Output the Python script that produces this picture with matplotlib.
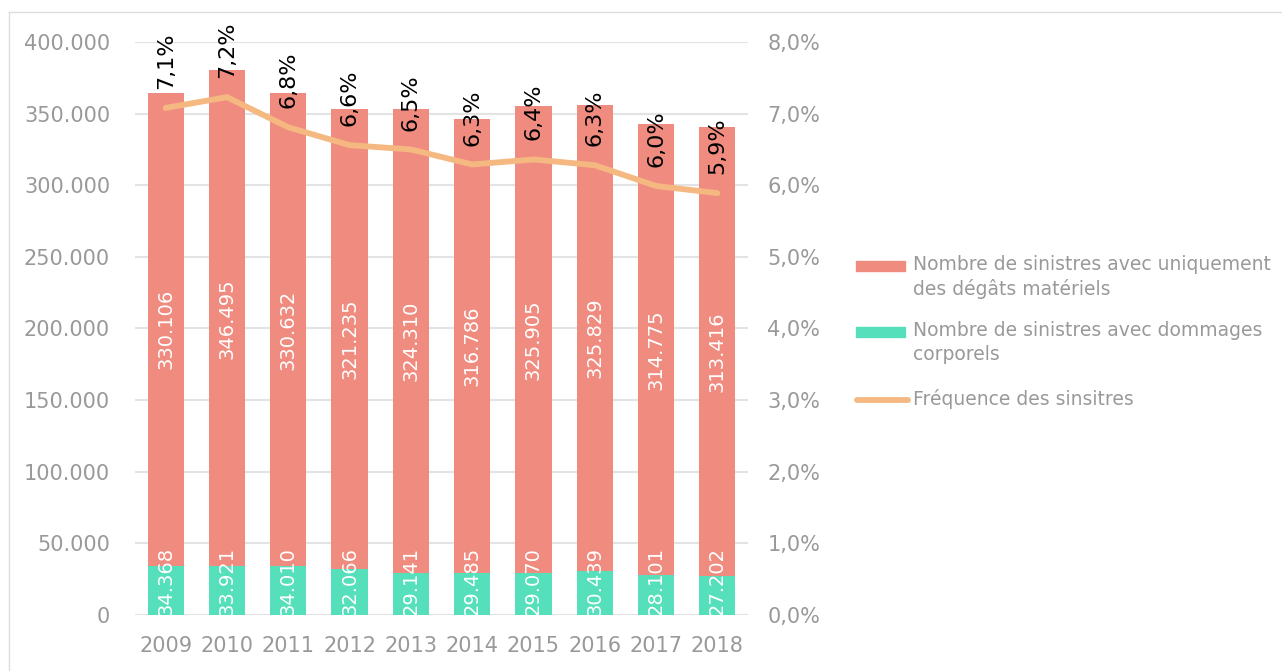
import matplotlib.pyplot as plt
from matplotlib.patches import Rectangle
from matplotlib.lines import Line2D
from matplotlib.ticker import FuncFormatter, MultipleLocator

years = ['2009', '2010', '2011', '2012', '2013', '2014', '2015', '2016', '2017', '2018']
materiels = [330106, 346495, 330632, 321235, 324310, 316786, 325905, 325829, 314775, 313416]
corporels = [34368, 33921, 34010, 32066, 29141, 29485, 29070, 30439, 28101, 27202]
frequence = [7.08, 7.23, 6.81, 6.56, 6.50, 6.29, 6.36, 6.28, 5.99, 5.89]

RED = '#F08B80'
GREEN = '#55DFBB'
ORANGE = '#F5B880'
GREY_TXT = '#999999'
GRID = '#E3E3E3'

fig = plt.figure(figsize=(12.82, 6.71), dpi=100)
ax = fig.add_axes([135 / 1282, 56 / 671, 613 / 1282, 573 / 671])
ax2 = ax.twinx()

x = list(range(len(years)))
ax.bar(x, corporels, width=0.59, color=GREEN, zorder=2)
ax.bar(x, materiels, width=0.59, bottom=corporels, color=RED, zorder=2)

# value labels inside the bars
for i in x:
    ax.text(i, corporels[i] + materiels[i] / 2, f'{materiels[i]:,}'.replace(',', '.'),
            rotation=90, ha='center', va='center', color='white', fontsize=14, zorder=3)
    ax.text(i, 0, f'{corporels[i]:,}'.replace(',', '.'),
            rotation=90, ha='center', va='bottom', color='white', fontsize=14, zorder=3)

ax.set_xlim(-0.5, len(years) - 0.5)
ax.set_ylim(0, 400000)
ax.yaxis.set_major_locator(MultipleLocator(50000))
ax.yaxis.set_major_formatter(FuncFormatter(lambda v, p: f'{v:,.0f}'.replace(',', '.')))
ax.set_xticks(x)
ax.set_xticklabels(years)
ax.grid(axis='y', color=GRID, linewidth=1.5, zorder=0)
ax.set_axisbelow(True)
ax.tick_params(axis='both', length=0, labelsize=15, labelcolor=GREY_TXT)
ax.tick_params(axis='y', pad=18)
ax.tick_params(axis='x', pad=15)

ax2.plot(x, frequence, color=ORANGE, linewidth=4.2, solid_capstyle='round', zorder=4)
for i in x:
    ax2.annotate(f'{frequence[i]:.1f}%'.replace('.', ','), (i, frequence[i]),
                 xytext=(0, 34), textcoords='offset points', rotation=90,
                 ha='center', va='center', fontsize=16, color='black',
                 annotation_clip=False)
ax2.set_ylim(0, 8)
ax2.yaxis.set_major_locator(MultipleLocator(1))
ax2.yaxis.set_major_formatter(FuncFormatter(lambda v, p: f'{v:.1f}%'.replace('.', ',')))
ax2.tick_params(axis='y', length=0, labelsize=15, labelcolor=GREY_TXT, pad=14)

for a in (ax, ax2):
    for s in a.spines.values():
        s.set_visible(False)

# legend drawn by hand so handles line up with the first text line
W, H = 1282, 671
def fx(px):
    return px / W
def fy(py):
    return 1 - py / H

entries = [
    ('bar', RED, 'Nombre de sinistres avec uniquement\ndes dégâts matériels', 266),
    ('bar', GREEN, 'Nombre de sinistres avec dommages\ncorporels', 332),
    ('line', ORANGE, 'Fréquence des sinsitres', 400),
]
for kind, col, label, py in entries:
    if kind == 'bar':
        fig.patches.append(Rectangle((fx(856), fy(py + 5)), fx(905) - fx(856), 10 / H,
                                     transform=fig.transFigure, color=col))
    else:
        fig.lines.append(Line2D([fx(857), fx(908)], [fy(py), fy(py)], transform=fig.transFigure,
                                color=col, linewidth=4.2, solid_capstyle='round'))
    fig.text(fx(913), fy(py - 11), label, ha='left', va='top', fontsize=13.5,
             color=GREY_TXT, linespacing=1.3)

# thin outer frame
fig.lines.append(Line2D([fx(9), fx(9)], [0, fy(12)], transform=fig.transFigure, color='#DDDDDD', linewidth=1))
fig.lines.append(Line2D([fx(9), 1], [fy(12), fy(12)], transform=fig.transFigure, color='#DDDDDD', linewidth=1))

fig.savefig('out.png', dpi=100)
